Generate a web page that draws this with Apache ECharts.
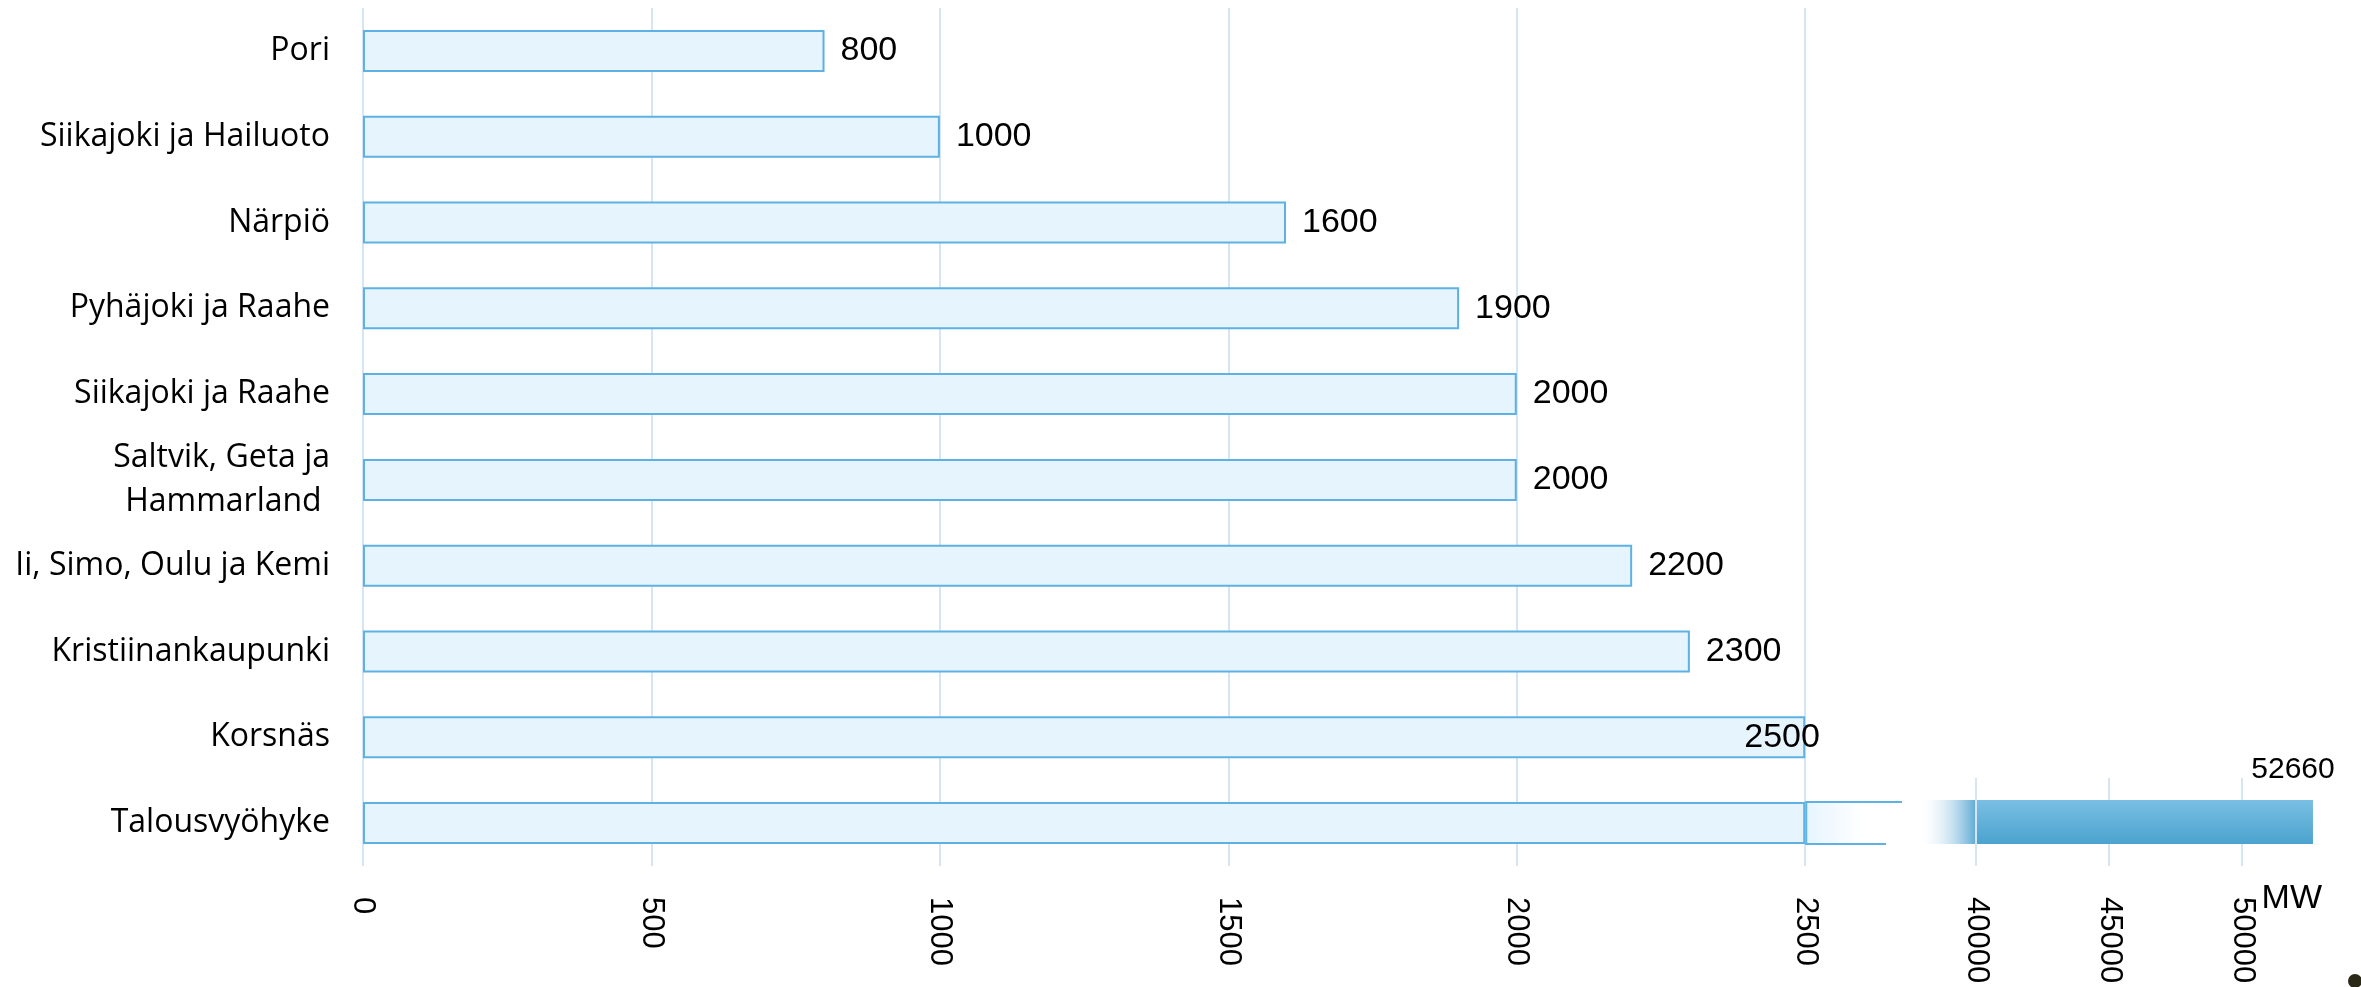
<!DOCTYPE html>
<html><head><meta charset="utf-8">
<script src="https://cdn.jsdelivr.net/npm/echarts@6/dist/echarts.min.js"></script>
<style>html,body{margin:0;padding:0;background:#fff}#c{width:2361px;height:987px}</style>
</head><body><div id="c"></div>
<script>
// ---- data ----
const categories = ['Pori','Siikajoki ja Hailuoto','Närpiö','Pyhäjoki ja Raahe','Siikajoki ja Raahe','Saltvik, Geta ja\nHammarland ','Ii, Simo, Oulu ja Kemi','Kristiinankaupunki','Korsnäs','Talousvyöhyke'];
const capacityMW = [800, 1000, 1600, 1900, 2000, 2000, 2200, 2300, 2500, 52660];
const lowTicks = [0, 500, 1000, 1500, 2000, 2500];
const highTicks = [40000, 45000, 50000];
const unitLabel = 'MW';

// axis break: first segment ends at last low tick, second starts at first high tick
const BREAK_START = lowTicks[lowTicks.length - 1];
const BREAK_END = highTicks[0];

const LIGHT_FILL = '#e6f4fe', LIGHT_BORDER = '#5eb1e2', GRID_COLOR = '#d6e5f3';
const NUM_FONT = 'Liberation Sans', CAT_FONT = 'Open Sans';
const BAR_H = 42;

const lowMain = capacityMW.map(v => ({
  value: Math.min(v, BREAK_START),
  label: v > BREAK_START ? { show: false } : (v === BREAK_START ? { offset: [-77, 0] } : {})
}));
const overflowData = capacityMW.map((v, i) => [v, i]).filter(d => d[0] > BREAK_START);
const highIdx = overflowData.map(d => d[1]);
const highCats = highIdx.map(i => categories[i]);
const highFade = highIdx.map(() => BREAK_END);
const highMain = highIdx.map(i => capacityMW[i] - BREAK_END);

const plainNum = v => String(v);

const chart = echarts.init(document.getElementById('c'), null, { renderer: 'canvas' });
chart.setOption({
  animation: false,
  backgroundColor: '#ffffff',
  grid: [
    { left: 363, right: 475, top: 8, bottom: 121, containLabel: false },
    { left: 1917.5, right: 31, top: 778, bottom: 121, containLabel: false }
  ],
  xAxis: [
    {
      type: 'value', gridIndex: 0, min: lowTicks[0], max: 2640, interval: lowTicks[1] - lowTicks[0],
      axisLine: { show: false }, axisTick: { show: false },
      splitLine: { show: true, showMinLine: true, showMaxLine: false, lineStyle: { color: GRID_COLOR, width: 2 } },
      axisLabel: { rotate: -90, fontSize: 31, fontFamily: NUM_FONT, color: '#000', margin: 31, showMaxLabel: false, formatter: plainNum }
    },
    {
      type: 'value', gridIndex: 1, min: 37800, max: 53300,
      minInterval: highTicks[1] - highTicks[0], maxInterval: highTicks[1] - highTicks[0],
      axisLine: { show: false }, axisTick: { show: false },
      splitLine: { show: true, showMinLine: false, showMaxLine: false, lineStyle: { color: GRID_COLOR, width: 2 } },
      axisLabel: { rotate: -90, fontSize: 31, fontFamily: NUM_FONT, color: '#000', margin: 31, showMinLabel: false, showMaxLabel: false, formatter: plainNum },
      name: unitLabel, nameLocation: 'end', nameGap: -8,
      nameTextStyle: { fontSize: 34, fontFamily: NUM_FONT, color: '#000', align: 'right', verticalAlign: 'top', padding: [16, 0, 0, 0] }
    }
  ],
  yAxis: [
    {
      type: 'category', gridIndex: 0, data: categories, inverse: true,
      axisLine: { show: false }, axisTick: { show: false }, splitLine: { show: false },
      axisLabel: { fontSize: 32, fontFamily: CAT_FONT, color: '#000', margin: 33, lineHeight: 44, interval: 0 }
    },
    {
      type: 'category', gridIndex: 1, data: highCats, inverse: true, show: false
    }
  ],
  series: [
    {
      type: 'bar', xAxisIndex: 0, yAxisIndex: 0, barWidth: BAR_H, data: lowMain,
      itemStyle: { color: LIGHT_FILL, borderColor: LIGHT_BORDER, borderWidth: 2 },
      label: { show: true, position: 'right', distance: 16, fontSize: 34, fontFamily: NUM_FONT, color: '#000' },
      z: 3
    },
    {
      // part of the light bar beyond the break: fades out, open on the right
      type: 'custom', xAxisIndex: 0, yAxisIndex: 0, data: overflowData,
      encode: { x: 0, y: 1 },
      renderItem: (params, api) => {
        const p = api.coord([BREAK_START, api.value(1)]);
        const cs = params.coordSys;
        const x0 = p[0], x1 = cs.x + cs.width, yT = p[1] - BAR_H / 2, yB = p[1] + BAR_H / 2;
        return {
          type: 'group',
          children: [
            { type: 'rect', shape: { x: x0, y: yT, width: x1 - x0, height: BAR_H },
              style: { fill: new echarts.graphic.LinearGradient(0, 0, 1, 0, [
                { offset: 0, color: LIGHT_FILL }, { offset: 0.72, color: '#ffffff' }, { offset: 1, color: '#ffffff' } ]) } },
            { type: 'line', shape: { x1: x0, y1: yT, x2: x1 + 16, y2: yT }, style: { stroke: LIGHT_BORDER, lineWidth: 2 } },
            { type: 'line', shape: { x1: x0, y1: yB, x2: x1, y2: yB }, style: { stroke: LIGHT_BORDER, lineWidth: 2 } },
            { type: 'line', shape: { x1: x0 + 1, y1: yT, x2: x0 + 1, y2: yB }, style: { stroke: LIGHT_BORDER, lineWidth: 2 } }
          ]
        };
      },
      z: 4
    },
    {
      type: 'bar', xAxisIndex: 1, yAxisIndex: 1, stack: 'high', barWidth: 44, data: highFade,
      itemStyle: {
        color: { type: 'linear', x: 0, y: 0, x2: 1, y2: 0, colorStops: [
          { offset: 0, color: 'rgba(255,255,255,0)' }, { offset: 1, color: '#5eaad4' } ] }
      },
      label: { show: false }, z: 3
    },
    {
      type: 'bar', xAxisIndex: 1, yAxisIndex: 1, stack: 'high', barWidth: 44, data: highMain,
      itemStyle: {
        color: { type: 'linear', x: 0, y: 0, x2: 0, y2: 1, colorStops: [
          { offset: 0, color: '#7abfe3' }, { offset: 1, color: '#4ba3cf' } ] }
      },
      label: {
        show: true, position: ['100%', '0%'], align: 'center', verticalAlign: 'bottom', offset: [-20, -15],
        fontSize: 30, fontFamily: NUM_FONT, color: '#000',
        formatter: p => String(capacityMW[highIdx[p.dataIndex]])
      },
      markLine: {
        silent: true, symbol: 'none', label: { show: false },
        lineStyle: { color: GRID_COLOR, width: 2, type: 'solid' },
        data: [{ xAxis: BREAK_END }]
      },
      z: 3
    }
  ],
  graphic: [
    { type: 'circle', shape: { cx: 2355, cy: 981, r: 7 }, style: { fill: '#2a2816' }, z: 10 }
  ]
});
</script></body></html>
